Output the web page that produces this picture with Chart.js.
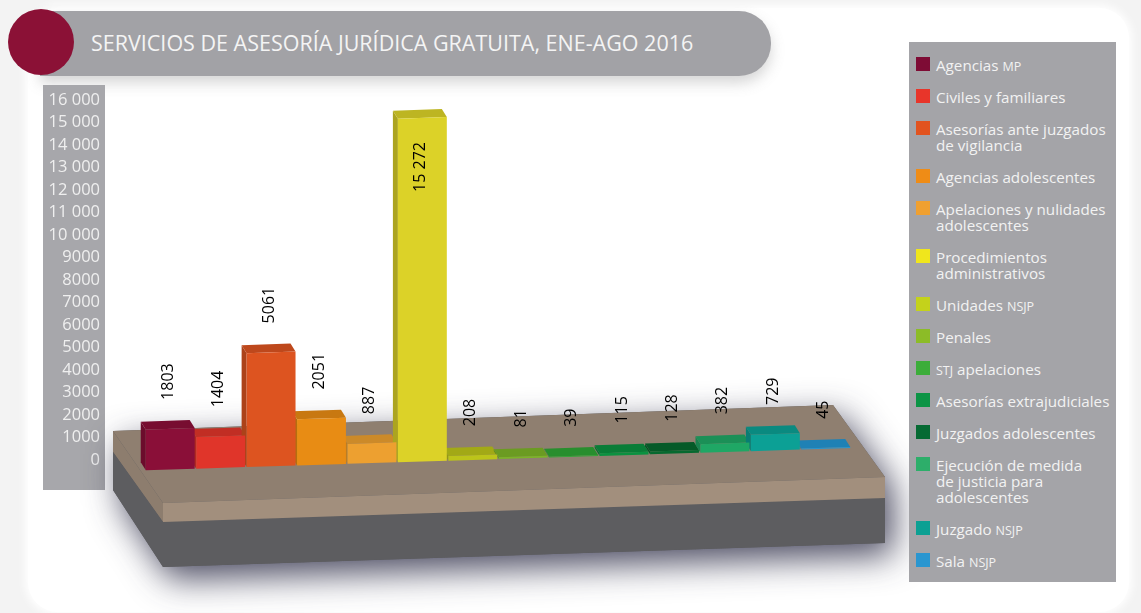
<!DOCTYPE html>
<html lang="es"><head><meta charset="utf-8">
<script src="https://cdn.jsdelivr.net/npm/chart.js@4"></script>
<style>
html,body{margin:0;padding:0;width:1141px;height:613px;overflow:hidden;background:#f3f3f3;font-family:"Open Sans",sans-serif}
#panel{position:absolute;left:28px;top:8px;width:1101px;height:604px;background:#fff;border-radius:30px;box-shadow:0 0 8px 3px #fff}
#pill{position:absolute;left:40px;top:11px;width:731px;height:65px;background:#a2a2a6;border-radius:0 32px 32px 0;box-shadow:0 7px 14px rgba(120,120,120,.3)}
#dot{position:absolute;left:8px;top:9px;width:66px;height:66px;border-radius:50%;background:#8b1136}
#title{position:absolute;left:91px;top:28px;color:#f4f4f4;font-size:21.5px;line-height:30px;white-space:nowrap}
#band{position:absolute;left:43px;top:85px;width:62px;height:405px;background:#a7a7ab}
canvas{position:absolute;left:0;top:0}
#legend{position:absolute;left:909px;top:42px;width:207px;height:540px;background:#a4a4a8}
#legend div.it{position:absolute;left:27px;color:#f2f2f2;font-size:15.2px;line-height:16px;white-space:nowrap}
#legend small{font-size:12.5px}
#legend i{position:absolute;left:-20px;top:0;width:14px;height:14px}
</style></head><body>
<div id="panel"></div>
<div id="pill"></div><div id="dot"></div>
<div id="title">SERVICIOS DE ASESORÍA JURÍDICA GRATUITA, ENE-AGO 2016</div>
<div id="band"></div>
<canvas id="c" width="1141" height="613"></canvas>
<div id="legend"></div>
<script>
const categories = [
  "Agencias <small>MP</small>","Civiles y familiares","Asesorías ante juzgados<br>de vigilancia",
  "Agencias adolescentes","Apelaciones y nulidades<br>adolescentes","Procedimientos<br>administrativos",
  "Unidades <small>NSJP</small>","Penales","<small>STJ</small> apelaciones","Asesorías extrajudiciales",
  "Juzgados adolescentes","Ejecución de medida<br>de justicia para<br>adolescentes","Juzgado <small>NSJP</small>","Sala <small>NSJP</small>"];
const values = [1803,1404,5061,2051,887,15272,208,81,39,115,128,382,729,45];
const valueLabels = ["1803","1404","5061","2051","887","15 272","208","81","39","115","128","382","729","45"];
const barColors = ["#8a0f38","#e0352a","#dd5420","#e88c14","#eda030","#dcd228","#bcc41a","#7cb428","#2fa535","#0b9140","#06692f","#1fa765","#0ca095","#2496d2"];
const legendColors = ["#7e0c35","#e8352a","#e2531f","#ef8c16","#f0a030","#f0e61c","#c4d21b","#8cbc27","#3cad3a","#0c9445","#066a33","#2dae6a","#0ca093","#2a96d0"];

const legend = document.getElementById('legend');
let ly = 15;
categories.forEach((t,i)=>{
  const d=document.createElement('div');d.className='it';d.style.top=ly+'px';
  d.innerHTML='<i style="background:'+legendColors[i]+'"></i>'+t;
  legend.appendChild(d);
  ly += 16*(t.split('<br>').length)+16;
});

const SLOPE=-0.0315, X0=470, DX=-5, DY=-8;
const sk=(x,y)=>y+SLOPE*(x-X0);
function shade(hex,f){const n=parseInt(hex.slice(1),16);
  return 'rgb('+[(n>>16)&255,(n>>8)&255,n&255].map(v=>Math.round(v*f)).join(',')+')';}
function poly(ctx,pts,fill){ctx.beginPath();pts.forEach((p,i)=>i?ctx.lineTo(p[0],p[1]):ctx.moveTo(p[0],p[1]));ctx.closePath();ctx.fillStyle=fill;ctx.fill();}

const stage={id:'stage',
  beforeDatasetsDraw(chart){
    const ctx=chart.ctx;
    ctx.save();
    ctx.shadowColor='rgba(45,45,70,.85)';ctx.shadowBlur=34;ctx.shadowOffsetX=8;ctx.shadowOffsetY=12;
    poly(ctx,[[113,431],[833,405],[885,477],[885,543],[163,567],[113,490]],'#5d5d60');
    ctx.restore();
    poly(ctx,[[113,431],[163,503],[163,522],[113,452]],'#8d7d6e');
    poly(ctx,[[163,522],[885,498],[885,543],[163,567],[113,490],[113,452]],'#5d5d60');
    poly(ctx,[[113,431],[833,405],[885,477],[163,503]],'#8f7f70');
    poly(ctx,[[163,503],[885,477],[885,498],[163,522]],'#a28f7d');
    chart.getDatasetMeta(0).data.forEach((b,i)=>{
      const l=b.x-b.width/2,r=b.x+b.width/2,top=b.y,bot=b.base;
      poly(ctx,[[l,sk(l,top)],[l+DX,sk(l,top)+DY],[l+DX,sk(l,bot)+DY],[l,sk(l,bot)]],shade(barColors[i],.78));
      poly(ctx,[[l,sk(l,top)],[l+DX,sk(l,top)+DY],[r+DX,sk(r,top)+DY],[r,sk(r,top)]],shade(barColors[i],.86));
    });
  },
  beforeDatasetDraw(chart){
    const ctx=chart.ctx;ctx.save();ctx.transform(1,SLOPE,0,1,0,-SLOPE*X0);
  },
  afterDatasetDraw(chart){chart.ctx.restore();},
  afterDatasetsDraw(chart){
    const ctx=chart.ctx;
    chart.getDatasetMeta(0).data.forEach((b,i)=>{
      const y=sk(b.x,b.y);
      const inside=values[i]>10000;
      const a=inside? y+74 : y+DY-21;
      ctx.save();ctx.translate(b.x-2,a);ctx.rotate(-Math.PI/2);
      ctx.font='16px "Open Sans"';ctx.fillStyle='#000';ctx.textAlign='left';ctx.textBaseline='middle';
      ctx.fillText(valueLabels[i],0,0);ctx.restore();
    });
  }
};

new Chart(document.getElementById('c'),{
  type:'bar',
  data:{labels:categories.map(s=>s.replace(/<[^>]+>/g,' ')),datasets:[{data:values,backgroundColor:barColors,borderWidth:0,barPercentage:.97,categoryPercentage:1,clip:false}]},
  options:{responsive:false,animation:false,
    layout:{padding:{top:100,bottom:153,right:290,left:0}},
    plugins:{legend:{display:false},title:{display:false},tooltip:{enabled:false}},
    scales:{
      x:{display:false},
      y:{min:0,max:16000,border:{display:false},grid:{display:false,drawTicks:false},
        afterFit(s){s.width=145;},
        ticks:{stepSize:1000,autoSkip:false,padding:45,color:'#efefef',font:{family:'"Open Sans"',size:16.5},
          callback:v=>v>=10000?Math.floor(v/1000)+' 000':String(v)}}
    }},
  plugins:[stage]
});
</script></body></html>
